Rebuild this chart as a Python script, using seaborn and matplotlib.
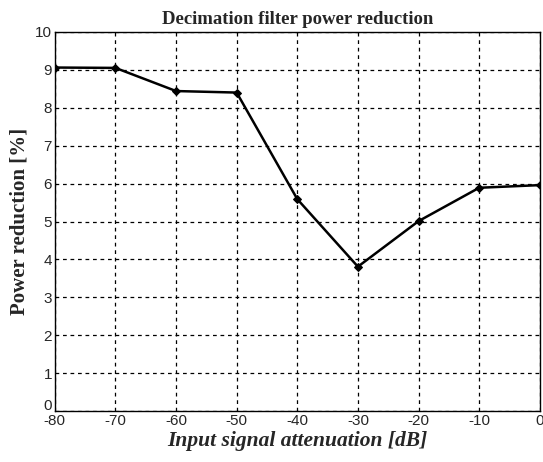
import matplotlib
matplotlib.use("Agg")
import matplotlib.pyplot as plt
import matplotlib.transforms as mtransforms
import seaborn as sns
import pandas as pd

# values
attenuation_db = [-80, -70, -60, -50, -40, -30, -20, -10, 0]
power_reduction = [9.06, 9.05, 8.44, 8.40, 5.59, 3.81, 5.01, 5.89, 5.96]

x_ticks = [-80, -70, -60, -50, -40, -30, -20, -10, 0]
y_ticks = list(range(0, 11))

df = pd.DataFrame({"att": attenuation_db, "red": power_reduction})

sns.set_style("white")
plt.rcParams["font.family"] = ["Liberation Sans", "DejaVu Sans"]
plt.rcParams["axes.unicode_minus"] = False

fig = plt.figure(figsize=(5.43, 4.62), dpi=100)
ax = fig.add_axes([0.101, 0.110, 0.893, 0.821])

sns.lineplot(data=df, x="att", y="red", ax=ax, color="black", linewidth=1.8,
             marker="D", markersize=4, markeredgecolor="black")

ax.set_xlim(-80, 0)
ax.set_ylim(0, 10)
ax.set_xticks(x_ticks)
ax.set_yticks(y_ticks)
ax.tick_params(axis="both", labelsize=11, direction="in", length=4, pad=2)
ax.grid(True, color="black", linestyle=(0, (3, 3)), linewidth=0.9)

# lift the "0" on the y axis a little, as in the original, so it clears "-80"
ylabels = ax.get_yticklabels()
ylabels[0].set_transform(ylabels[0].get_transform() +
                         mtransforms.ScaledTranslation(0, 5 / 72, fig.dpi_scale_trans))

for s in ax.spines.values():
    s.set_color("black")
    s.set_linewidth(1.0)

ax.set_title("Decimation filter power reduction", fontsize=13.5, fontweight="bold",
             family=["Liberation Serif", "DejaVu Serif"], pad=6)
ax.set_xlabel("Input signal attenuation [dB]", fontsize=15.5, fontweight="bold", style="italic",
              family=["Liberation Serif", "DejaVu Serif"], labelpad=2)
ax.set_ylabel("Power reduction [%]", fontsize=15, fontweight="bold",
              family=["Liberation Serif", "DejaVu Serif"], labelpad=4)

fig.savefig("out.png", dpi=100)
